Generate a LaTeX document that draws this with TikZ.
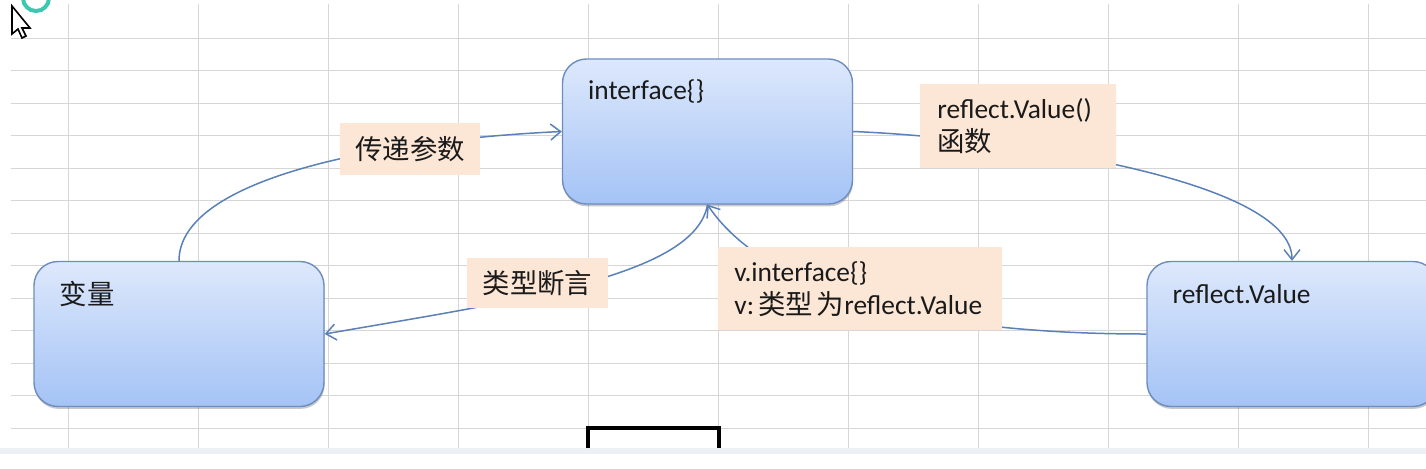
\documentclass[tikz,border=0pt]{standalone}
\usepackage{fontspec}
\setmainfont{Carlito}
\newfontfamily\cjk{Noto Sans CJK SC}
\usetikzlibrary{arrows.meta, shadows}

\definecolor{gridgray}{HTML}{D6D6D6}
\definecolor{bandblue}{HTML}{EDF1F6}
\definecolor{boxtop}{HTML}{DDE8FC}
\definecolor{boxbot}{HTML}{A4C3F5}
\definecolor{boxline}{HTML}{6C8DBE}
\definecolor{linkblue}{HTML}{5A80B8}
\definecolor{tagfill}{HTML}{FCE6D6}
\definecolor{textdark}{HTML}{1A1A1A}
\definecolor{cursorteal}{HTML}{3CC7B0}

\begin{document}
\begin{tikzpicture}[
  x=0.5pt, y=-0.5pt,
  font=\fontsize{13.7}{16.5}\selectfont,
  gridline/.style={draw=gridgray, line width=0.5pt},
  state/.style={draw=boxline, line width=0.7pt, rounded corners=12pt, top color=boxtop, bottom color=boxbot,
    minimum width=145pt, minimum height=72.5pt, inner sep=0pt,
    drop shadow={shadow xshift=0.3pt, shadow yshift=-1.2pt, opacity=0.3, fill=black!70}},
  statetext/.style={anchor=west, xshift=13pt, yshift=-16.75pt, inner sep=0pt, text=textdark},
  tag/.style={fill=tagfill, inner sep=0pt, text=textdark},
  link/.style={draw=linkblue, line width=0.75pt},
  arrow/.style={link, -{Straight Barb[length=5pt, width=8pt]}}
]
\useasboundingbox (0,0) rectangle (1426,468);
\clip (0,0) rectangle (1426,468);

% sheet grid
\foreach \gx in {68,198,...,1368}
  \draw[gridline] (\gx,4) -- (\gx,448);
\foreach \i in {0,...,12}
  \draw[gridline] (11,38+32.5*\i) -- (1426,38+32.5*\i);
\fill[bandblue] (0,448) rectangle (1426,454);

% states
\node[state] (var) at (179,334) {};
\node[state] (iface) at (707.5,131.5) {};
\node[state] (refl) at (1292,334) {};
\node[statetext] (vartext) at (var.north west) {\cjk 变量};
\node[statetext] (ifacetext) at (iface.north west) {interface\{\}};
\node[statetext] (refltext) at (refl.north west) {reflect.Value};

% connectors
\draw[arrow] (var.north) .. controls +(0,-82) and +(-183,8.5) .. (iface.west);
\draw[arrow] (iface.east) .. controls +(148,6) and +(0,-82) .. (refl.north);
\draw[arrow] (refl.west) .. controls +(-297,0) and +(37.5,56) .. (iface.south);
\draw[arrow] (iface.south) .. controls +(-12.5,71) and +(196,-34) .. (var.east);

% labels
\node[tag, minimum width=70pt, minimum height=26pt] (pass) at (410,149) {\cjk 传递参数};
\node[tag, anchor=north west, align=left, text width=81pt, inner xsep=8.5pt, minimum height=42pt] (reflfn) at (920,84)
  {reflect.Value()\\{\cjk 函数}};
\node[tag, minimum width=70.5pt, minimum height=25pt] (assert) at (537.5,283) {\cjk 类型断言};
\node[tag, anchor=north west, align=left, text width=126pt, inner xsep=8pt, minimum height=41.5pt] (vinfo) at (718,247)
  {v.interface\{\}\\\mbox{v:\hspace{2pt}{\cjk 类型}\hspace{2pt}{\cjk 为}reflect.Value}};

% screen leftovers
\draw[cursorteal, line width=2pt] (36,-2) circle[radius=13];
\draw[black, line width=0.8pt, fill=white] (12,6) -- (12,34) -- (18,29) -- (22,38) -- (26,36) -- (22,28) -- (30,28) -- cycle;
\draw[black, line width=2pt] (588,448) -- (588,428) -- (719,428) -- (719,448);
\end{tikzpicture}
\end{document}
